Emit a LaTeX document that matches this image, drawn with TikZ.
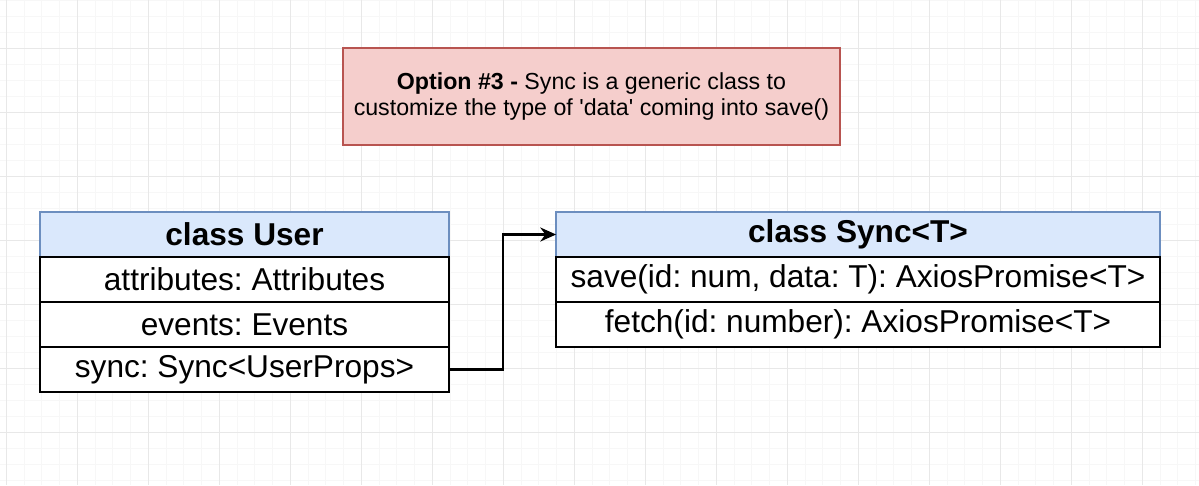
\documentclass[tikz,border=0pt]{standalone}
\usepackage{fontspec}
\setmainfont{Liberation Sans}
\usetikzlibrary{arrows.meta, positioning}
\frenchspacing
\definecolor{gridMinor}{RGB}{247,247,247}
\definecolor{gridMajor}{RGB}{232,232,232}
\definecolor{notaFill}{HTML}{F5CECC}
\definecolor{notaDraw}{HTML}{B85450}
\definecolor{headFill}{HTML}{DAE8FC}
\definecolor{headDraw}{HTML}{6C8EBF}
\tikzset{
  uml/head/.style={rectangle, draw=headDraw, fill=headFill,
    line width=1pt, inner sep=0pt, outer sep=0pt, minimum height=9mm,
    font=\fontsize{18}{20}\selectfont\bfseries},
  uml/row/.style={rectangle, draw=black, fill=white,
    line width=1pt, inner sep=0pt, outer sep=0pt, minimum height=9mm,
    font=\fontsize{18}{20}\selectfont},
  uml/note/.style={rectangle, draw=notaDraw, fill=notaFill,
    line width=1pt, minimum width=9.94cm, minimum height=1.94cm,
    align=center, font=\fontsize{13.2}{14.5}\selectfont},
  uml/arr/.style={-{Stealth[length=9pt,width=8pt]}, line width=1.2pt,
    draw=black}
}

\begin{document}
\begin{tikzpicture}[x=0.02cm, y=-0.02cm]
    \useasboundingbox (0,0) rectangle (1199,485);
    \fill[white] (0,0) rectangle (1199,485);
    % grid
    \begin{scope}
      \clip (0,0) rectangle (1199,485);
      \foreach \i in {-1,...,68}
        \draw[gridMinor, line width=0.6pt] ({6.3+17.75*\i},0) -- ++(0,485);
      \foreach \j in {-1,...,31}
        \draw[gridMinor, line width=0.6pt] (0,{-15.3+16*\j}) -- ++(1199,0);
      \foreach \i in {0,...,16}
        \draw[gridMajor, line width=0.6pt] ({6.3+71*\i},0) -- ++(0,485);
      \foreach \j in {1,...,7}
        \draw[gridMajor, line width=0.6pt] (0,{-15.3+64*\j}) -- ++(1199,0);
    \end{scope}

    \node[uml/note] (nota) at (591.5,96.5)
      {{\bfseries Option \#3 -} Sync is a generic class to\\
       customize the type of \textquotesingle data\textquotesingle{} coming into save()};

    % class User
    \node[uml/head, minimum width=8.18cm] (user) at (244.5,234.5) {class User};
    \node[uml/row, minimum width=8.18cm, below=0pt of user] (user-attr)
      {attributes: Attributes};
    \node[uml/row, minimum width=8.18cm, below=0pt of user-attr] (user-events)
      {events: Events};
    \node[uml/row, minimum width=8.18cm, below=0pt of user-events] (user-sync)
      {sync: Sync<UserProps>};

    % class Sync<T>
    \node[uml/head, minimum width=12.08cm] (sync) at (858,234.5) {class Sync<T>};
    \node[uml/row, minimum width=12.08cm, below=0pt of sync] (sync-save)
      {save(id: num, data: T): AxiosPromise<T>};
    \node[uml/row, minimum width=12.08cm, below=0pt of sync-save] (sync-fetch)
      {fetch(id: number): AxiosPromise<T>};

    \draw[uml/arr] (user-sync.east) -- ++(54,0) |- (sync.west);
  \end{tikzpicture}
\end{document}
